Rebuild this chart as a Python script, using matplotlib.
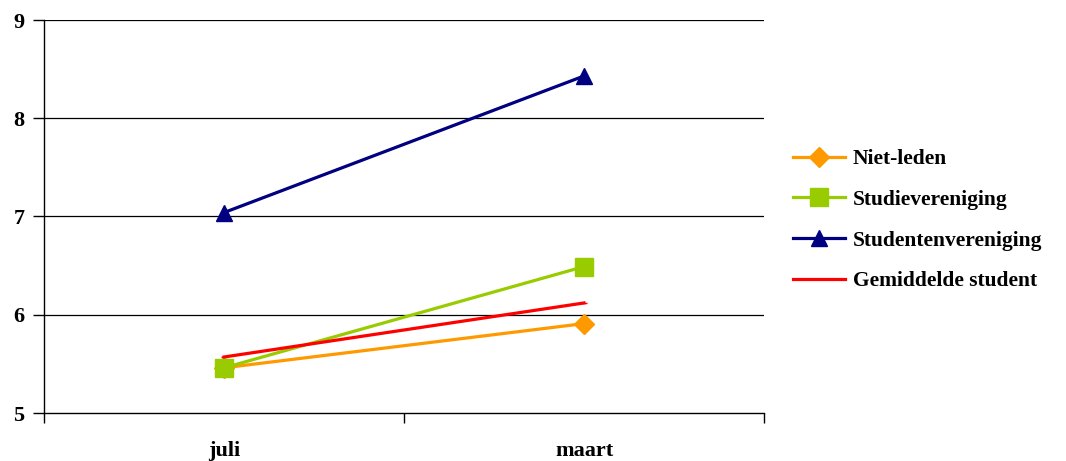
import matplotlib
matplotlib.use("Agg")
import matplotlib.pyplot as plt

categories = ["juli", "maart"]
niet_leden = [5.46, 5.91]
studievereniging = [5.46, 6.49]
studentenvereniging = [7.04, 8.43]
gemiddelde = [5.57, 6.12]
y_ticks = [5, 6, 7, 8, 9]

series = [
    ("Niet-leden", niet_leden, "#FF9900", "D", 10.5),
    ("Studievereniging", studievereniging, "#99CC00", "s", 12.5),
    ("Studentenvereniging", studentenvereniging, "#000080", "^", 12),
    ("Gemiddelde student", gemiddelde, "#FF0000", "_", 4),
]

plt.rcParams['font.family'] = ['Liberation Serif', 'DejaVu Serif']
fig = plt.figure(figsize=(10.66, 4.61), dpi=100)
ax = fig.add_axes([44/1066, 1-413/461, 720/1066, 393/461])

xs = [0.5, 1.5]
for name, vals, col, mk, ms in series:
    ax.plot(xs, vals, color=col, lw=2.3, marker=mk, ms=ms, mec=col, mfc=col,
            label=name, clip_on=False, zorder=3)

ax.set_xlim(0, 2)
ax.set_ylim(5, 9)
ax.set_yticks(y_ticks)
ax.set_yticklabels([str(v) for v in y_ticks], fontsize=16, fontweight='bold')
for v in y_ticks[1:]:
    ax.axhline(v, color='black', lw=0.9, zorder=1)

ax.set_xticks([0, 1, 2])
ax.set_xticklabels([])
ax.set_xticks(xs, minor=True)
ax.set_xticklabels(categories, minor=True, fontsize=16, fontweight='bold')
ax.tick_params(axis='x', which='major', direction='out', length=7, width=1)
ax.tick_params(axis='x', which='minor', length=0, pad=20)
ax.tick_params(axis='y', direction='out', length=8, width=1, pad=6)

for s in ['top', 'right']:
    ax.spines[s].set_visible(False)
for s in ['left', 'bottom']:
    ax.spines[s].set_linewidth(1)

leg = fig.legend(loc='upper left', bbox_to_anchor=(793/1066, 1-149/461),
                 frameon=False, prop={'size': 15.5, 'weight': 'bold'},
                 handlelength=2.4, handletextpad=0.37, labelspacing=0.96,
                 borderaxespad=0, borderpad=0)

fig.savefig("out.png", dpi=100)
